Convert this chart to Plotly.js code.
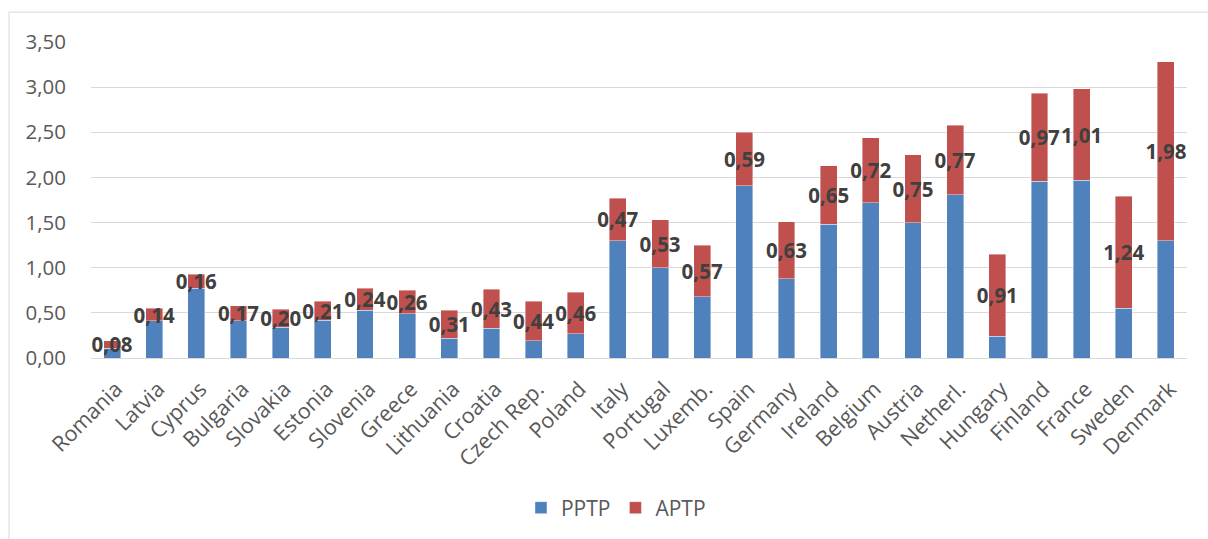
<!DOCTYPE html>
<html>
<head>
<meta charset="utf-8">
<script src="https://cdn.plot.ly/plotly-3.0.1.min.js"></script>
<style>
html,body{margin:0;padding:0;background:#fff;}
#chart{width:1208px;height:539px;}
</style>
</head>
<body>
<div id="chart"></div>
<script>
const countries = ["Romania","Latvia","Cyprus","Bulgaria","Slovakia","Estonia","Slovenia","Greece","Lithuania","Croatia","Czech Rep.","Poland","Italy","Portugal","Luxemb.","Spain","Germany","Ireland","Belgium","Austria","Netherl.","Hungary","Finland","France","Sweden","Denmark"];
const pptp = [0.11,0.41,0.77,0.41,0.34,0.42,0.53,0.49,0.22,0.33,0.19,0.27,1.30,1.00,0.68,1.91,0.88,1.48,1.72,1.50,1.81,0.24,1.96,1.97,0.55,1.30];
const aptp = [0.08,0.14,0.16,0.17,0.20,0.21,0.24,0.26,0.31,0.43,0.44,0.46,0.47,0.53,0.57,0.59,0.63,0.65,0.72,0.75,0.77,0.91,0.97,1.01,1.24,1.98];
const yTicks = [0,0.5,1,1.5,2,2.5,3,3.5];

const fontFam = '"Open Sans", "Liberation Sans", sans-serif';

const traces = [
  {
    type: 'bar', name: 'PPTP', x: countries, y: pptp,
    marker: {color: '#4F81BD', line: {color: 'rgba(255,255,255,0.5)', width: 0.8}},
    hoverinfo: 'skip'
  },
  {
    type: 'bar', name: 'APTP', x: countries, y: aptp,
    marker: {color: '#C0504D', line: {color: 'rgba(255,255,255,0.5)', width: 0.8}},
    texttemplate: '%{y:.2f}', textposition: 'inside', insidetextanchor: 'middle',
    textangle: 0, constraintext: 'none', cliponaxis: false,
    insidetextfont: {family: fontFam, size: 20.5, color: '#404040', weight: 'bold'},
    hoverinfo: 'skip'
  }
];

const layout = {
  width: 1208, height: 539,
  margin: {l: 91, r: 21, t: 42, b: 180},
  barmode: 'stack', bargap: 0.6,
  separators: ',.',
  paper_bgcolor: '#fff', plot_bgcolor: '#fff',
  font: {family: fontFam, color: '#595959', size: 20.5},
  showlegend: true,
  legend: {orientation: 'h', x: 0.479, xanchor: 'center', y: -0.47, yanchor: 'middle',
           font: {family: fontFam, size: 21, color: '#595959'}, traceorder: 'normal', itemwidth: 30},
  xaxis: {
    type: 'category', tickangle: -45, showgrid: false, showline: false, zeroline: false,
    ticks: 'outside', ticklen: 9, tickcolor: 'rgba(0,0,0,0)', ticklabelshift: 4,
    tickfont: {family: fontFam, size: 21.5, color: '#595959'}, automargin: false
  },
  yaxis: {
    range: [0, 3.5], tickvals: yTicks, tickformat: '.2f',
    showgrid: true, gridcolor: '#d9d9d9', gridwidth: 1,
    zeroline: true, zerolinecolor: '#d9d9d9', zerolinewidth: 1,
    showline: false, ticks: 'outside', ticklen: 20, tickcolor: 'rgba(0,0,0,0)',
    tickfont: {family: fontFam, size: 20.5, color: '#595959'}, automargin: false
  },
  shapes: [
    {type: 'rect', xref: 'paper', yref: 'paper', x0: -0.0748, x1: 1.1, y0: -0.7, y1: 1.0946,
     line: {color: '#d9d9d9', width: 1}, fillcolor: 'rgba(0,0,0,0)', layer: 'below'}
  ]
};

Plotly.newPlot('chart', traces, layout, {displayModeBar: false, staticPlot: true});
</script>
</body>
</html>
